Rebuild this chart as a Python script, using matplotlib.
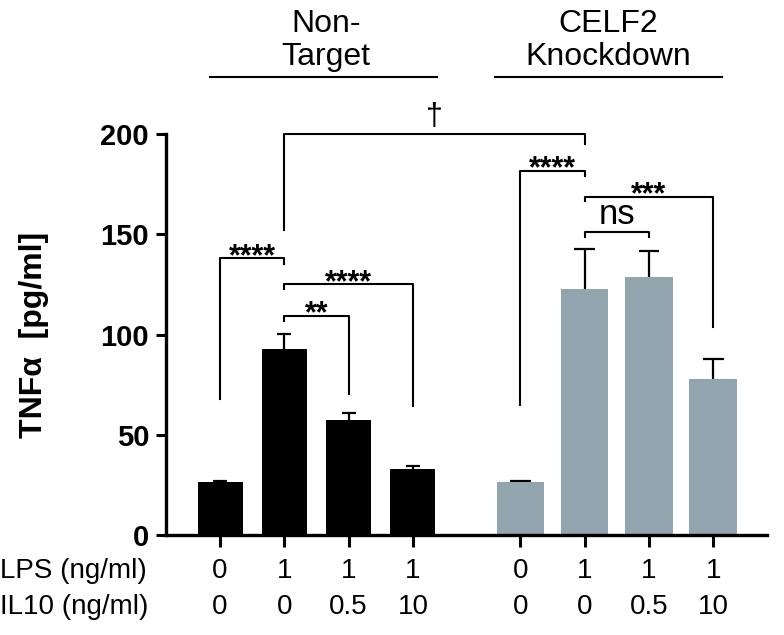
from matplotlib import pyplot as plt

# --------------------------- Data ---------------------------

x_pos = [0, 1, 2, 3, 4.67, 5.67, 6.67, 7.67]
tnf_means = [26.3, 92.7, 57.4, 32.8, 26.6, 122.7, 129.0, 77.7]
tnf_sem = [0.4, 7.5, 3.7, 1.8, 0.4, 20.1, 13.0, 10.0]
lps_labels = ['0', '1', '1', '1', '0', '1', '1', '1']
il10_labels = ['0', '0', '0.5', '10', '0', '0', '0.5', '10']
group_names = ['Non-\nTarget', 'CELF2\nKnockdown']

# significance brackets: (x1, x2, top, left end, right end, label)
brackets = [(0, 1, 138.1, 67.7, 135.3, '****'),
            (1, 3, 125.3, 122.8, 64.4, '****'),
            (1, 2, 109.5, 106.8, 70.4, '**'),
            (4.67, 5.67, 181.9, 64.9, 179.2, '****'),
            (5.67, 7.67, 168.9, 166.7, 104.0, '***'),
            (5.67, 6.67, 151.4, 148.6, 148.6, 'ns'),
            (1, 5.67, 200.0, 152.3, 195.0, '\u2020')]

# ------------------------- Styling --------------------------

plt.rcParams['font.family'] = ['Liberation Sans', 'DejaVu Sans']
black = '#000000'
grey = '#92a4ad'

fig = plt.figure(figsize=(7.84, 6.35), dpi=100)
ax = fig.add_axes([0.2114, 0.1575, 0.767, 0.631])

# ------------------------- Bars -----------------------------

colors = [black] * 4 + [grey] * 4
widths = [0.7] * 4 + [0.74] * 4
cap_half = [0.11] * 4 + [0.16] * 4
for i in range(len(x_pos)):
    ax.bar(x_pos[i], tnf_means[i], widths[i], color=colors[i], zorder=2)
    top = tnf_means[i] + tnf_sem[i]
    # upper error bar only
    ax.vlines(x_pos[i], tnf_means[i] - 2, top, color='black', lw=1.6, zorder=1)
    ax.hlines(top, x_pos[i] - cap_half[i], x_pos[i] + cap_half[i],
              color='black', lw=1.6, zorder=1)

# ------------------------- Axes -----------------------------

ax.set_xlim(-0.845, 8.507)
ax.set_ylim(0, 200)
ax.set_yticks([0, 50, 100, 150, 200])
ax.set_xticks(x_pos)
ax.set_xticklabels([])
ax.spines['top'].set_visible(False)
ax.spines['right'].set_visible(False)
ax.spines['left'].set_linewidth(2.4)
ax.spines['bottom'].set_linewidth(2.4)
ax.tick_params(axis='y', length=7, width=2.2, pad=5, labelsize=21)
ax.tick_params(axis='x', length=8.5, width=2.2)
for lab in ax.get_yticklabels():
    lab.set_fontweight('bold')

fig.text(34 / 784, 1 - 335 / 635, 'TNF\u03b1  [pg/ml]', rotation=90,
         ha='center', va='center', fontsize=23, fontweight='bold')

# rows of treatment labels under the axis
tr = ax.get_xaxis_transform()
for i in range(len(x_pos)):
    ax.text(x_pos[i], -0.09, lps_labels[i], transform=tr, ha='center',
            va='center', fontsize=20)
    ax.text(x_pos[i], -0.18, il10_labels[i], transform=tr, ha='center',
            va='center', fontsize=20)
fig.text(0.0, 1 - 571 / 635, 'LPS (ng/ml)', ha='left', va='center', fontsize=20)
fig.text(0.0, 1 - 607 / 635, 'IL10 (ng/ml)', ha='left', va='center', fontsize=20)

# group headers
ax.plot([-0.156, 3.375], [228.5, 228.5], color='black', lw=1.5, clip_on=False)
ax.plot([4.277, 7.807], [228.5, 228.5], color='black', lw=1.5, clip_on=False)
ax.text(1.65, 231, group_names[0], ha='center', va='bottom', fontsize=23,
        linespacing=1.15)
ax.text(6.03, 231, group_names[1], ha='center', va='bottom', fontsize=23,
        linespacing=1.15)

# significance brackets
for (x1, x2, top, e1, e2, label) in brackets:
    ax.plot([x1, x1, x2, x2], [e1, top, top, e2], color='black', lw=1.5,
            clip_on=False, zorder=3)
    weight = 'normal'
    if label == 'ns':
        off, size = 5.5, 25
    elif label == '\u2020':
        off, size = 7, 22
    else:
        off, size, weight = -5, 22, 'bold'
    ax.annotate(label, ((x1 + x2) / 2, top), xytext=(0, off),
                textcoords='offset points', ha='center', va='baseline',
                fontsize=size, fontweight=weight, annotation_clip=False)

fig.savefig('out.png', dpi=100)
